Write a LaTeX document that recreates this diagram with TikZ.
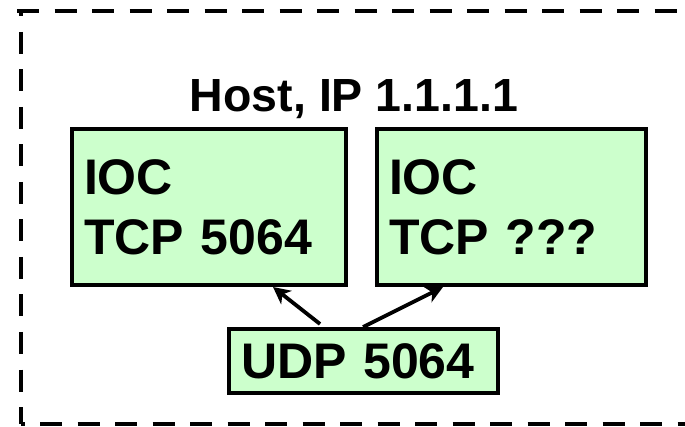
\documentclass[tikz,border=0pt]{standalone}
\usepackage{fontspec}
\setmainfont{Liberation Sans}
\usetikzlibrary{arrows.meta}
\definecolor{boxgreen}{HTML}{CCFFCC}
\begin{document}
\begin{tikzpicture}[x=1pt,y=-1pt,
  box/.style={draw=black, line width=4.2pt, fill=boxgreen, outer sep=0pt,
    inner xsep=12pt, inner ysep=0pt, align=left,
    font=\fontsize{50}{60}\selectfont\bfseries},
  arr/.style={line width=3.8pt, -{Stealth[length=17pt,width=17pt,inset=5pt]}},
  frame/.style={line width=4.5pt, dash pattern=on 22pt off 15.5pt},
  title/.style={font=\fontsize{46.5}{54}\selectfont\bfseries, inner sep=0pt, anchor=base}]
\useasboundingbox (0,0) rectangle (685,427);
\clip (0,0) rectangle (685,427);
% dashed frame
\draw[frame] (17,11) -- (700,11);
\draw[frame, dash phase=16.5pt] (21,11) -- (21,424);
\draw[frame, dash phase=18.5pt] (21,424) -- (700,424);
% title
\node[title] (host) at (354,112) {Host, IP 1.1.1.1};
% boxes
\node[box, text width=250pt, minimum height=156pt] (ioc1) at (209,207) {IOC\\TCP 5064};
\node[box, text width=245pt, minimum height=156pt] (ioc2) at (511.5,207) {IOC\\TCP ???};
\node[box, text width=245pt, minimum height=64pt] (udp) at (363.5,361) {UDP 5064};
% arrows
\draw[arr] ([xshift=-43.5pt,yshift=5pt]udp.north) -- ([xshift=64pt,yshift=-2pt]ioc1.south);
\draw[arr] ([xshift=-0.5pt,yshift=2pt]udp.north) -- ([xshift=-68.5pt,yshift=-2pt]ioc2.south);
\end{tikzpicture}
\end{document}
